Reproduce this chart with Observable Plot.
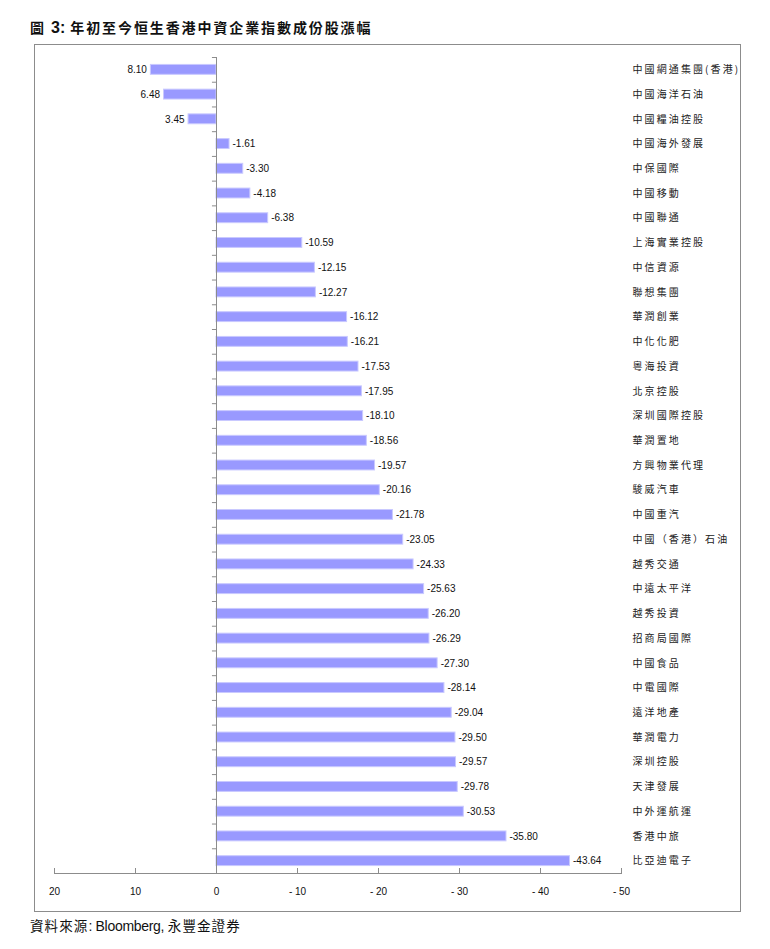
<!DOCTYPE html>
<html>
<head>
<meta charset="utf-8">
<script src="https://cdn.jsdelivr.net/npm/d3@7"></script>
<script src="https://cdn.jsdelivr.net/npm/@observablehq/plot@0.6"></script>
<style>
  html, body { margin: 0; padding: 0; background: #fff; }
  body { width: 770px; height: 949px; position: relative; overflow: hidden; }
  #title { position: absolute; left: 30px; top: 17px; font-size: 14px; font-weight: bold; color: #111; white-space: nowrap;
           font-family: "Noto Sans CJK TC", sans-serif; letter-spacing: 1.9px; }
  #title .num { font-family: "Liberation Sans", Arial, sans-serif; font-size: 16px; letter-spacing: 0; }
  #frame { position: absolute; left: 34px; top: 44px; width: 705px; height: 866px; border: 1px solid #8c8c8c; }
  #frame svg { display: block; }
  #caption { position: absolute; left: 30px; top: 915px; font-size: 13.5px; color: #111; white-space: nowrap;
             font-family: "Noto Sans CJK TC", sans-serif; letter-spacing: 1.1px; }
  #caption .lat { font-family: "Liberation Sans", Arial, sans-serif; letter-spacing: -0.3px; font-size: 14px; }
  svg [aria-label="y-axis tick label"] text { letter-spacing: 2.1px; }
</style>
</head>
<body>
<div id="title">圖 <span class="num">3:</span> 年初至今恒生香港中資企業指數成份股漲幅</div>
<div id="frame"></div>
<div id="caption">資料來源<span class="lat">: Bloomberg, </span>永豐金證券</div>
<script>
const names = [
  "中國網通集團(香港)", "中國海洋石油", "中國糧油控股", "中國海外發展", "中保國際",
  "中國移動", "中國聯通", "上海實業控股", "中信資源", "聯想集團",
  "華潤創業", "中化化肥", "粵海投資", "北京控股", "深圳國際控股",
  "華潤置地", "方興物業代理", "駿威汽車", "中國重汽", "中國（香港）石油",
  "越秀交通", "中遠太平洋", "越秀投資", "招商局國際", "中國食品",
  "中電國際", "遠洋地產", "華潤電力", "深圳控股", "天津發展",
  "中外運航運", "香港中旅", "比亞迪電子"
];
const values = [
  8.10, 6.48, 3.45, -1.61, -3.30,
  -4.18, -6.38, -10.59, -12.15, -12.27,
  -16.12, -16.21, -17.53, -17.95, -18.10,
  -18.56, -19.57, -20.16, -21.78, -23.05,
  -24.33, -25.63, -26.20, -26.29, -27.30,
  -28.14, -29.04, -29.50, -29.57, -29.78,
  -30.53, -35.80, -43.64
];
const xTicks = [20, 10, 0, -10, -20, -30, -40, -50];
const xDomain = [20, -50];

const data = names.map((name, i) => ({name, value: values[i]}));

const W = 705, H = 866, mT = 12, mB = 38, mL = 19, mR = 119;
const plotH = H - mT - mB;
const step = plotH / names.length;
const grey = "#8c8c8c";
const fmtTick = d => d < 0 ? "- " + Math.abs(d) : String(d);

const chart = Plot.plot({
  width: W, height: H,
  marginTop: mT, marginBottom: mB, marginLeft: mL, marginRight: mR,
  style: {fontFamily: "'Liberation Sans', Arial, sans-serif", fontSize: "10px", color: "#111", background: "#fff"},
  x: {domain: xDomain, ticks: xTicks},
  y: {domain: names, paddingInner: 0.6, paddingOuter: 0.3, align: 0.5, round: false},
  marks: [
    Plot.barX(data, {x: "value", y: "name", fill: "#9999ff", stroke: "#c9c9ff", strokeWidth: 1}),
    Plot.ruleX([0], {stroke: grey}),
    Plot.ruleY(names, {y: d => d, dy: -step / 2, x1: 0, x2: 0.5, stroke: grey}),
    Plot.frame({anchor: "bottom", stroke: grey}),
    Plot.tickX(xTicks, {x: d => d, insetTop: plotH - 5, stroke: grey}),
    Plot.axisX({ticks: xTicks, tickSize: 0, tickPadding: 14, tickFormat: fmtTick, fontSize: 10, fill: "#111", label: null}),
    Plot.axisY({anchor: "right", tickSize: 0, tickPadding: 11, fontSize: 10, fill: "#222",
                fontFamily: "'Noto Sans CJK TC', sans-serif", label: null}),
    Plot.text(data.filter(d => d.value >= 0), {x: "value", y: "name", text: d => d.value.toFixed(2),
      textAnchor: "end", dx: -4, fontSize: 10, fill: "#111"}),
    Plot.text(data.filter(d => d.value < 0), {x: "value", y: "name", text: d => d.value.toFixed(2),
      textAnchor: "start", dx: 3, fontSize: 10, fill: "#111"})
  ]
});
document.getElementById("frame").appendChild(chart);
</script>
</body>
</html>
